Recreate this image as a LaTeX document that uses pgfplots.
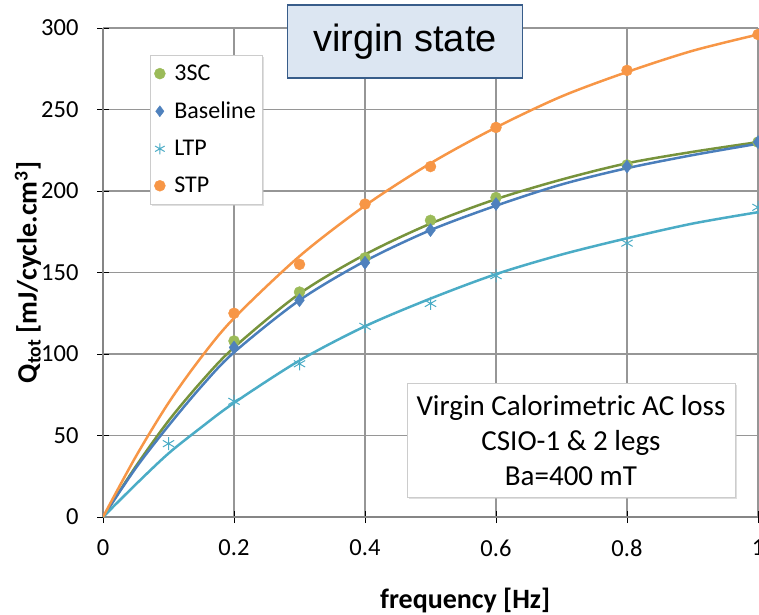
\documentclass[border=0pt]{standalone}
\usepackage{fontspec}
\setmainfont{Carlito}
\newfontfamily\arialfont{Liberation Sans}
\usepackage{pgfplots}
\pgfplotsset{compat=1.18}
\usetikzlibrary{shadows}
\definecolor{gmark}{HTML}{9BBB59}
\definecolor{gline}{HTML}{77933C}
\definecolor{bmark}{HTML}{4F81BD}
\definecolor{bline}{HTML}{4A7EBB}
\definecolor{cmark}{HTML}{4BACC6}
\definecolor{omark}{HTML}{F79646}
\definecolor{gridc}{HTML}{969696}
\definecolor{spinec}{HTML}{868686}
\definecolor{titlefill}{HTML}{DCE6F2}
\definecolor{titledraw}{HTML}{385D8A}
\begin{document}
\begin{tikzpicture}
\begin{axis}[
  scale only axis, width=655pt, height=489pt,
  xmin=0, xmax=1, ymin=0, ymax=300,
  xtick={0,0.2,0.4,0.6,0.8,1}, xticklabels={0,0.2,0.4,0.6,0.8,1},
  ytick={0,50,100,150,200,250,300},
  grid=major, major grid style={gridc, line width=1.1pt},
  axis lines=left, axis line style={-, line width=1.4pt, spinec},
  tick align=center, major tick length=12pt, tick style={black, line width=0.8pt},
  ticklabel style={font=\fontsize{24.5}{28}\selectfont},
  xticklabel style={yshift=-13pt},
  yticklabel style={xshift=-15pt},
  /pgf/number format/assume math mode=true,
  clip mode=individual,
  xlabel={\textbf{frequency [Hz]}},
  ylabel={\textbf{Q\textsubscript{tot} [mJ/cycle.cm\textsuperscript{3}]}},
  xlabel style={at={(axis description cs:0.553,-0.17)}, anchor=center, font=\fontsize{28}{32}\selectfont},
  ylabel style={at={(axis description cs:-0.1145,0.5)}, anchor=center, font=\fontsize{28}{32}\selectfont},
  legend style={at={(rel axis cs:0.072,0.945)}, anchor=north west, draw=gray!40, fill=white,
    drop shadow={shadow xshift=2pt, shadow yshift=-2pt, fill=gray!50},
    font=\fontsize{24}{28}\selectfont, row sep=16pt, inner xsep=4pt, inner ysep=8pt,
    /tikz/every odd column/.append style={column sep=7pt}},
  legend image code/.code={\draw[mark repeat=2,mark phase=2,#1,mark size=5.5pt] plot coordinates {(0cm,0cm) (0.18cm,0cm) (0.36cm,0cm)};},
  legend cell align=left,
]
% fitted curves
\addplot[gline, line width=2.5pt, smooth, forget plot] coordinates {
 (0,0) (0.05,31) (0.1,59) (0.15,83) (0.2,104) (0.3,137) (0.4,161) (0.5,180) (0.6,195) (0.7,207) (0.8,217) (0.9,224) (1.0,230)};
\addplot[bline, line width=2.5pt, smooth, forget plot] coordinates {
 (0,0) (0.05,30) (0.1,56) (0.15,80) (0.2,101) (0.3,133) (0.4,157) (0.5,176) (0.6,191) (0.7,204) (0.8,214) (0.9,222) (1.0,229)};
\addplot[cmark, line width=2.5pt, smooth, forget plot] coordinates {
 (0,0) (0.05,20) (0.1,39) (0.15,55) (0.2,70) (0.3,96) (0.4,117) (0.5,134) (0.6,149) (0.7,161) (0.8,171) (0.9,180) (1.0,187)};
\addplot[omark, line width=2.5pt, smooth, forget plot] coordinates {
 (0,0) (0.05,37) (0.1,70) (0.15,98) (0.2,122) (0.3,160) (0.4,191) (0.5,217) (0.6,239) (0.7,258) (0.8,273) (0.9,286) (1.0,296)};
% measured points
\addplot[only marks, mark=*, mark size=5.5pt, mark options={fill=gmark, draw=gmark}] coordinates {
 (0.2,108) (0.3,138) (0.4,159) (0.5,182) (0.6,196) (0.8,216) (1.0,230)};
\addlegendentry{3SC}
\addplot[only marks, mark=diamond*, mark size=6.5pt, mark options={fill=bmark, draw=bmark}] coordinates {
 (0.2,104) (0.3,133) (0.4,156) (0.5,176) (0.6,192) (0.8,215) (1.0,230)};
\addlegendentry{Baseline}
\addplot[only marks, mark=asterisk, mark size=6.5pt, mark options={draw=cmark, line width=1pt}] coordinates {
 (0.1,45) (0.2,71) (0.3,94) (0.4,117) (0.5,131) (0.6,148) (0.8,168) (1.0,190)};
\addlegendentry{LTP}
\addplot[only marks, mark=*, mark size=5.5pt, mark options={fill=omark, draw=omark}] coordinates {
 (0.2,125) (0.3,155) (0.4,192) (0.5,215) (0.6,239) (0.8,274) (1.0,296)};
\addlegendentry{STP}
\node[draw=titledraw, line width=1.5pt, fill=titlefill, minimum width=235pt, minimum height=73pt,
  font=\arialfont\fontsize{38}{44}\selectfont] at (rel axis cs:0.461,0.972) {virgin state};
\node[draw=gray!40, fill=white, drop shadow={shadow xshift=2pt, shadow yshift=-2pt, fill=gray!50},
  align=center, minimum width=328pt, minimum height=114pt,
  font=\fontsize{29}{35}\selectfont] at (rel axis cs:0.7145,0.157)
  {Virgin Calorimetric AC loss\\CSIO-1 \& 2 legs\\Ba=400 mT};
\coordinate (O) at (rel axis cs:0,0);
\end{axis}
\pgfresetboundingbox
\path[use as bounding box] (O) ++(-103pt,-97pt) rectangle ++(759pt,614pt);
\end{tikzpicture}
\end{document}
